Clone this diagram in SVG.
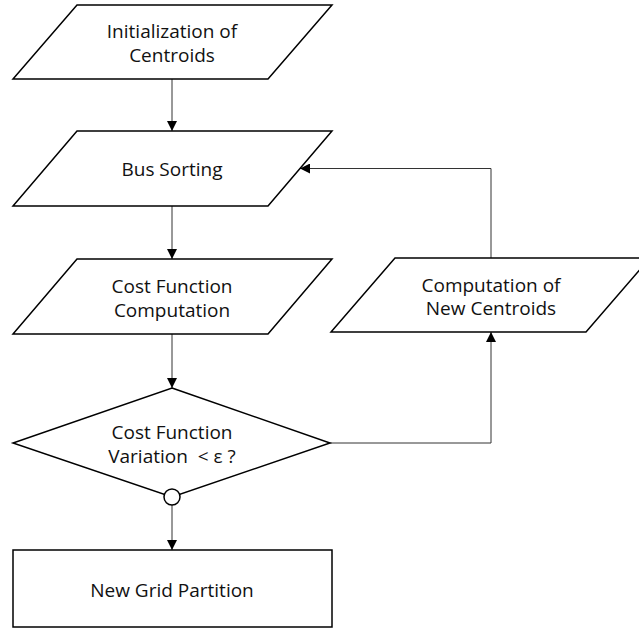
<svg xmlns="http://www.w3.org/2000/svg" width="639" height="628" viewBox="0 0 639 628">
  <defs>
    <marker id="arrow" viewBox="0 0 10 10" refX="10" refY="5" markerWidth="10" markerHeight="10" markerUnits="userSpaceOnUse" orient="auto">
      <path d="M0,0 L10,5 L0,10 Z" fill="#000"/>
    </marker>
  </defs>
  <style>
    .shape { fill: #fff; stroke: #000; stroke-width: 1.5; }
    .edge { fill: none; stroke: #333; stroke-width: 1; }
    .label { font-family: "Open Sans", "Noto Sans", "Liberation Sans", sans-serif; font-size: 19px; fill: #111; text-anchor: middle; }
  </style>
  <rect width="639" height="628" fill="#fff"/>

  <g id="connectors">
    <path class="edge" d="M172,79 V131" marker-end="url(#arrow)"/>
    <path class="edge" d="M172,206 V259" marker-end="url(#arrow)"/>
    <path class="edge" d="M172,334 V388" marker-end="url(#arrow)"/>
    <path class="edge" d="M172,505 V550" marker-end="url(#arrow)"/>
    <path class="edge" d="M330,443 H491 V332" marker-end="url(#arrow)"/>
    <path class="edge" d="M491,258 V168.5 H300" marker-end="url(#arrow)"/>
  </g>

  <g id="init-centroids">
    <polygon class="shape" points="77,5 332,5 268,79 13,79"/>
    <text class="label" x="172" y="38">Initialization of</text>
    <text class="label" x="172" y="62">Centroids</text>
  </g>

  <g id="bus-sorting">
    <polygon class="shape" points="77,131 332,131 268,206 13,206"/>
    <text class="label" x="172" y="176">Bus Sorting</text>
  </g>

  <g id="cost-computation">
    <polygon class="shape" points="77,259 332,259 268,334 13,334"/>
    <text class="label" x="172" y="293">Cost Function</text>
    <text class="label" x="172" y="317">Computation</text>
  </g>

  <g id="new-centroids">
    <polygon class="shape" points="395,258 650,258 586,332 331,332"/>
    <text class="label" x="491" y="291.5">Computation of</text>
    <text class="label" x="491" y="315">New Centroids</text>
  </g>

  <g id="variation-check">
    <polygon class="shape" points="172,388 330,443 172,497 13,443"/>
    <circle class="shape" cx="172" cy="497" r="8"/>
    <text class="label" x="172" y="439">Cost Function</text>
    <text class="label" x="172" y="463">Variation&#160; &lt; ε ?</text>
  </g>

  <g id="grid-partition">
    <rect class="shape" x="13" y="550" width="319" height="77"/>
    <text class="label" x="172" y="597">New Grid Partition</text>
  </g>
</svg>
